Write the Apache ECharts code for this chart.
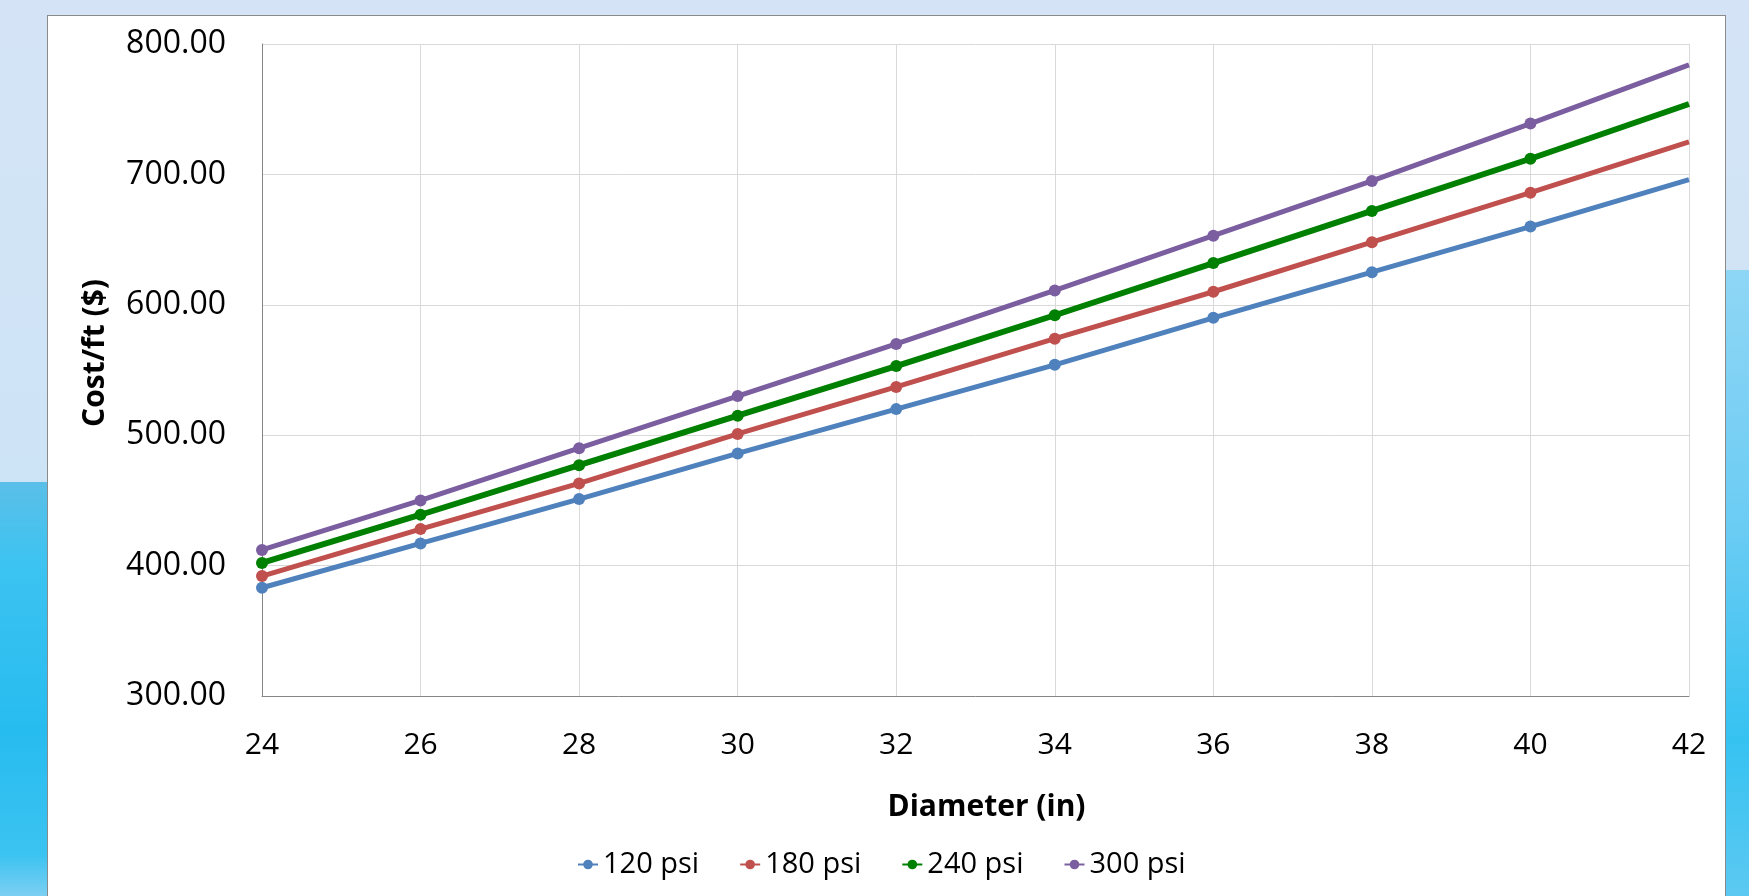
<!DOCTYPE html>
<html>
<head>
<meta charset="utf-8">
<script src="https://cdn.jsdelivr.net/npm/echarts@6/dist/echarts.min.js"></script>
<style>
html, body { margin: 0; padding: 0; width: 1749px; height: 896px; overflow: hidden; }
body { background: linear-gradient(180deg, #d4e4f6 0%, #cfe4f6 40%, #c5e3f6 100%); position: relative; }
#swl { position: absolute; left: 0; top: 482px; width: 60px; height: 414px;
  background: linear-gradient(180deg, #5bbfe8 0%, #3cc3f1 20%, #27bcef 60%, #3bc3f1 90%, #7ccff2 100%); }
#swr { position: absolute; right: 0; top: 270px; width: 40px; height: 626px;
  background: linear-gradient(180deg, #8fd6f5 0%, #6cccf3 40%, #36c2f1 75%, #5cc9f2 100%); }
#box { position: absolute; left: 47px; top: 15px; width: 1677px; height: 900px;
  background: #fff; border: 1px solid #8a8a8a; }
#main { position: absolute; left: 0; top: 0; width: 1749px; height: 896px; }
</style>
</head>
<body>
<div id="swl"></div>
<div id="swr"></div>
<div id="box"></div>
<div id="main"></div>
<script>
var diameters = ['24', '26', '28', '30', '32', '34', '36', '38', '40', '42'];
var psi120 = [383, 417, 451, 486, 520, 554, 590, 625, 660, 696];
var psi180 = [392, 428, 463, 501, 537, 574, 610, 648, 686, 725];
var psi240 = [402, 439, 477, 515, 553, 592, 632, 672, 712, 754];
var psi300 = [412, 450, 490, 530, 570, 611, 653, 695, 739, 784];

// last point sits on the plot edge with no marker
function pts(arr) {
    return arr.map(function (v, i) {
        return i === arr.length - 1 ? {value: v, symbol: 'none'} : v;
    });
}

function line(name, data, color, width) {
    return {
        name: name,
        type: 'line',
        data: pts(data),
        symbol: 'circle',
        symbolSize: 12,
        lineStyle: {color: color, width: width},
        itemStyle: {color: color},
        emphasis: {disabled: true}
    };
}

var myChart = echarts.init(document.getElementById('main'));
var option = {
    backgroundColor: 'transparent',
    animation: false,
    textStyle: {fontFamily: 'Open Sans'},
    grid: {left: 262, right: 60, top: 44, bottom: 200},
    legend: {
        bottom: 12,
        left: 572,
        itemWidth: 20,
        itemHeight: 12,
        itemGap: 40,
        textStyle: {fontSize: 29, color: '#000', fontFamily: 'Open Sans'},
        data: ['120 psi', '180 psi', '240 psi', '300 psi']
    },
    xAxis: {
        type: 'category',
        boundaryGap: false,
        data: diameters,
        name: 'Diameter (in)',
        nameLocation: 'middle',
        nameGap: 96,
        nameTextStyle: {fontSize: 30, fontWeight: 'bold', color: '#000', padding: [0, 0, 0, 22]},
        axisLine: {lineStyle: {color: '#868686', width: 1}},
        axisTick: {show: false},
        axisLabel: {fontSize: 30, color: '#000', margin: 34},
        splitLine: {show: true, lineStyle: {color: '#d9d9d9', width: 1}}
    },
    yAxis: {
        type: 'value',
        min: 300,
        max: 800,
        interval: 100,
        name: 'Cost/ft ($)',
        nameLocation: 'middle',
        nameGap: 152,
        nameTextStyle: {fontSize: 30, fontWeight: 'bold', color: '#000', padding: [0, 0, 0, 34]},
        axisLine: {show: true, lineStyle: {color: '#868686', width: 1}},
        axisTick: {show: false},
        axisLabel: {
            fontSize: 32, color: '#000', margin: 36,
            formatter: function (v) { return v.toFixed(2); }
        },
        splitLine: {lineStyle: {color: '#d9d9d9', width: 1}}
    },
    series: [
        line('120 psi', psi120, '#4f81bd', 5),
        line('180 psi', psi180, '#c0504d', 5),
        line('240 psi', psi240, '#008000', 6),
        line('300 psi', psi300, '#7b5ea0', 5)
    ]
};
myChart.setOption(option);
window.onresize = myChart.resize;
</script>
</body>
</html>
